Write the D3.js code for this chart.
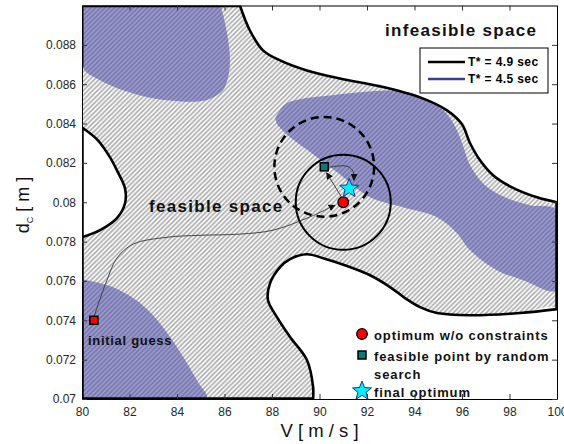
<!DOCTYPE html>
<html>
<head>
<meta charset="utf-8">
<script src="https://cdn.jsdelivr.net/npm/d3@7"></script>
<style>
  body { margin: 0; background: #fff; }
  svg { display: block; font-family: "Liberation Sans", Arial, sans-serif; }
</style>
</head>
<body>
<svg id="chart" width="564" height="444"></svg>
<script>
// ---- axis ticks ----
const xTicks = [80, 82, 84, 86, 88, 90, 92, 94, 96, 98, 100];
const yTicks = [0.07, 0.072, 0.074, 0.076, 0.078, 0.08, 0.082, 0.084, 0.086, 0.088];
const yTickLabels = ["0.07", "0.072", "0.074", "0.076", "0.078", "0.08", "0.082", "0.084", "0.086", "0.088"];

// ---- T* = 4.9 sec contour: infeasible regions (V [m/s], dc [m]) ----
const infeasibleTop = [
  [86.65, 0.0900], [87.07, 0.08873], [87.62, 0.08772], [88.34, 0.08721], [89.47, 0.0867],
  [90.86, 0.08629], [92.55, 0.08589], [94.23, 0.08533], [95.37, 0.08467], [96.0, 0.08396],
  [96.34, 0.0830], [96.76, 0.08213], [97.31, 0.08137], [98.02, 0.08081], [99.16, 0.08025],
  [100, 0.0800]
];
const infeasibleLeft = [
  [80, 0.0838], [80.67, 0.08315], [81.18, 0.08228], [81.47, 0.08162], [81.81, 0.08071],
  [81.81, 0.07995], [81.47, 0.07919], [80.76, 0.07858], [80, 0.07822]
];
const infeasibleBottom = [
  [89.73, 0.0700], [89.73, 0.07061], [89.47, 0.07198], [88.76, 0.07315], [88.21, 0.07416],
  [87.83, 0.07503], [87.92, 0.07589], [88.34, 0.0767], [88.76, 0.07711], [89.47, 0.07736],
  [90.15, 0.07716], [91.07, 0.0768], [92.13, 0.07629], [92.97, 0.07569], [93.6, 0.07513],
  [94.23, 0.07467], [94.95, 0.07437], [96.34, 0.07426], [98.44, 0.07437], [100, 0.07457]
];
// domain edges that close the feasible region
const edgeTop = [[80, 0.09], [86.65, 0.09]];
const edgeLeft = [[80, 0.0838], [80, 0.07]];
const edgeBottom = [[80, 0.07], [89.73, 0.07]];
const edgeRight = [[100, 0.08], [100, 0.07457]];
const edgeLeftBlue = [[80, 0.09], [80, 0.0869]];

// ---- T* = 4.5 sec contour: infeasible regions ----
const blueTopLeft = [
  [80, 0.09], [85.81, 0.09], [85.89, 0.08975], [86.11, 0.08858], [86.23, 0.08721],
  [86.15, 0.08635], [85.94, 0.08569], [85.52, 0.08533], [84.97, 0.08513], [83.58, 0.08518],
  [82.15, 0.08553], [80.76, 0.0862], [80, 0.0869]
];
const blueMiddle = [
  [88.13, 0.08426], [88.55, 0.08497], [89.39, 0.08528], [90.44, 0.08543], [92.13, 0.08563],
  [93.52, 0.08563], [94.65, 0.08518], [95.41, 0.08442], [95.79, 0.08365], [96.04, 0.08289],
  [96.34, 0.08188], [96.97, 0.08086], [97.81, 0.08025], [98.86, 0.07985], [100, 0.07959],
  [100, 0.07553], [98.57, 0.07604], [97.47, 0.07655], [96.34, 0.07756], [95.79, 0.07843],
  [94.95, 0.07924], [93.52, 0.07975], [92.13, 0.08025], [90.74, 0.08152], [89.73, 0.08244],
  [88.76, 0.0833], [88.25, 0.08391]
];
const blueBottomLeft = [
  [80, 0.07609], [81.18, 0.07574], [82.15, 0.07513], [82.95, 0.07431], [83.71, 0.07315],
  [84.34, 0.07198], [84.88, 0.07086], [85.26, 0.07], [80, 0.07]
];

// ---- optimisation points ----
const initialGuess = [80.5, 0.0740];
const optimumFree = [91.0, 0.0800];
const feasiblePoint = [90.2, 0.0818];
const finalOptimum = [91.25, 0.0807];
const solidRadiusV = 2.0;   // radius around unconstrained optimum, in V units
const dashedRadiusV = 2.1;  // radius around random-search point, in V units

// ---- search paths ----
const pathToOptimum = [
  [80.51, 0.07421], [81.05, 0.07604], [81.47, 0.07716], [82.15, 0.07787], [83.58, 0.07822],
  [84.97, 0.07832], [86.65, 0.07838], [88.04, 0.07858], [89.47, 0.07919], [90.65, 0.07985]
];
const pathToFeasible = [[90.93, 0.08025], [90.3, 0.0815]];
const pathToFinal = [[90.4, 0.08178], [91.16, 0.08183], [91.41, 0.08157], [91.45, 0.08112]];

// ---- layout ----
const svg = d3.select("#chart");
const pL = 82, pR = 557, pT = 5.5, pB = 399;
const x = d3.scaleLinear().domain([80, 100]).range([pL, pR]);
const y = d3.scaleLinear().domain([0.07, 0.09]).range([pB, pT]);
const line = d3.line().x(d => x(d[0])).y(d => y(d[1]));
const smooth = d3.line().x(d => x(d[0])).y(d => y(d[1])).curve(d3.curveCatmullRom.alpha(0.5));

const defs = svg.append("defs");
defs.append("clipPath").attr("id", "plotClip")
  .append("rect").attr("x", pL).attr("y", pT).attr("width", pR - pL).attr("height", pB - pT);

const hatch = defs.append("pattern").attr("id", "hatch")
  .attr("patternUnits", "userSpaceOnUse").attr("width", 4.7).attr("height", 4.7);
hatch.append("rect").attr("width", 4.7).attr("height", 4.7).attr("fill", "#fff");
hatch.append("path")
  .attr("d", "M-1,1 L1,-1 M0,4.7 L4.7,0 M3.7,5.7 L5.7,3.7")
  .attr("stroke", "#ababab").attr("stroke-width", 1.6);

defs.append("marker").attr("id", "arrow")
  .attr("viewBox", "0 0 10 10").attr("refX", 9).attr("refY", 5)
  .attr("markerWidth", 7).attr("markerHeight", 7).attr("markerUnits", "userSpaceOnUse")
  .attr("orient", "auto")
  .append("path").attr("d", "M0,0 L10,5 L0,10 z").attr("fill", "#111");

const plot = svg.append("g").attr("clip-path", "url(#plotClip)");

// feasible space (hatched)
plot.append("rect").attr("x", pL).attr("y", pT).attr("width", pR - pL).attr("height", pB - pT)
  .attr("fill", "url(#hatch)");

// infeasible space for T* = 4.9 sec
const closeTop = infeasibleTop.concat([[100, 0.09]]);
const closeBottom = infeasibleBottom.concat([[100, 0.07]]);
[closeTop, infeasibleLeft, closeBottom].forEach(poly => {
  plot.append("path").attr("d", smooth(poly) + "Z").attr("fill", "#fff");
});

// infeasible space for T* = 4.5 sec
[blueTopLeft, blueMiddle, blueBottomLeft].forEach(poly => {
  plot.append("path").attr("d", smooth(poly.concat([poly[0]]))).attr("fill", "#3d3da8").attr("fill-opacity", 0.5);
});

// contour lines
[infeasibleTop, infeasibleLeft, infeasibleBottom].forEach(b => {
  plot.append("path").attr("d", smooth(b)).attr("fill", "none").attr("stroke", "#000").attr("stroke-width", 2.6);
});
[edgeTop, edgeLeft, edgeBottom, edgeRight].forEach(b => {
  plot.append("path").attr("d", line(b)).attr("fill", "none").attr("stroke", "#000").attr("stroke-width", 3.5);
});
plot.append("path").attr("d", line(edgeLeftBlue)).attr("fill", "none").attr("stroke", "#2a2a7a").attr("stroke-width", 3.5);

// ---- axes (box with inward ticks) ----
function styleAxis(g) {
  g.select(".domain").attr("stroke", "#000").attr("stroke-width", 1);
  g.selectAll(".tick line").attr("stroke", "#333");
  g.selectAll(".tick text").attr("fill", "#262626").style("font-size", "12px")
    .style("font-family", "'Liberation Sans', Arial, sans-serif");
}
svg.append("g").attr("transform", `translate(0,${pB})`)
  .call(d3.axisBottom(x).tickValues(xTicks).tickSize(-5).tickSizeOuter(0).tickPadding(8).tickFormat(d3.format("d")))
  .call(styleAxis);
svg.append("g").attr("transform", `translate(0,${pT})`)
  .call(d3.axisTop(x).tickValues(xTicks).tickSize(-5).tickSizeOuter(0).tickFormat(""))
  .call(styleAxis);
svg.append("g").attr("transform", `translate(${pL},0)`)
  .call(d3.axisLeft(y).tickValues(yTicks).tickSize(-5).tickSizeOuter(0).tickPadding(6)
    .tickFormat((d, i) => yTickLabels[i]))
  .call(styleAxis);
svg.append("g").attr("transform", `translate(${pR},0)`)
  .call(d3.axisRight(y).tickValues(yTicks).tickSize(-5).tickSizeOuter(0).tickFormat(""))
  .call(styleAxis);

// ---- trust regions ----
const rSolid = x(80 + solidRadiusV) - x(80);
const rDashed = x(80 + dashedRadiusV) - x(80);
svg.append("circle").attr("cx", x(feasiblePoint[0])).attr("cy", y(feasiblePoint[1])).attr("r", rDashed)
  .attr("fill", "none").attr("stroke", "#000").attr("stroke-width", 2.5).attr("stroke-dasharray", "8,5");
svg.append("circle").attr("cx", x(optimumFree[0])).attr("cy", y(optimumFree[1])).attr("r", rSolid)
  .attr("fill", "none").attr("stroke", "#000").attr("stroke-width", 2);

// ---- search paths ----
svg.append("path").attr("d", smooth(pathToOptimum)).attr("fill", "none")
  .attr("stroke", "#333").attr("stroke-width", 0.9).attr("marker-end", "url(#arrow)");
svg.append("path").attr("d", line(pathToFeasible)).attr("fill", "none")
  .attr("stroke", "#333").attr("stroke-width", 0.9).attr("marker-end", "url(#arrow)");
svg.append("path").attr("d", smooth(pathToFinal)).attr("fill", "none")
  .attr("stroke", "#333").attr("stroke-width", 0.9).attr("marker-end", "url(#arrow)");

// ---- markers ----
function starPath(cx, cy, R, r) {
  const pts = [];
  for (let i = 0; i < 10; i++) {
    const a = -Math.PI / 2 + i * Math.PI / 5;
    const rad = i % 2 === 0 ? R : r;
    pts.push([cx + rad * Math.cos(a), cy + rad * Math.sin(a)]);
  }
  return "M" + pts.map(p => p.join(",")).join("L") + "Z";
}
function drawCircle(px, py) {
  svg.append("circle").attr("cx", px).attr("cy", py).attr("r", 5.3)
    .attr("fill", "#ff0000").attr("stroke", "#000").attr("stroke-width", 1.3);
}
function drawSquare(px, py, fill, s) {
  svg.append("rect").attr("x", px - s / 2).attr("y", py - s / 2).attr("width", s).attr("height", s)
    .attr("fill", fill).attr("stroke", "#000").attr("stroke-width", 1.5);
}
function drawStar(px, py) {
  svg.append("path").attr("d", starPath(px, py, 10, 4.3))
    .attr("fill", "#00f0ff").attr("stroke", "#16368a").attr("stroke-width", 1);
}
drawSquare(x(initialGuess[0]), y(initialGuess[1]), "#ff0000", 8);
drawCircle(x(optimumFree[0]), y(optimumFree[1]));
drawSquare(x(feasiblePoint[0]), y(feasiblePoint[1]), "#0a7a7a", 8);
drawStar(x(finalOptimum[0]), y(finalOptimum[1]));

// ---- annotations ----
svg.append("text").attr("x", 385).attr("y", 36).attr("font-weight", "bold")
  .style("font-size", "17px").style("letter-spacing", "1.3px").attr("fill", "#111").text("infeasible space");
svg.append("text").attr("x", 149).attr("y", 212).attr("font-weight", "bold")
  .style("font-size", "17px").style("letter-spacing", "1.3px").attr("fill", "#111").text("feasible space");
svg.append("text").attr("x", 88).attr("y", 345).attr("font-weight", "bold")
  .style("font-size", "13px").style("letter-spacing", "0.7px").attr("fill", "#111").text("initial guess");

// legend for contour levels
const lg = svg.append("g");
lg.append("rect").attr("x", 420).attr("y", 48).attr("width", 128).attr("height", 45)
  .attr("fill", "#fff").attr("stroke", "#000").attr("stroke-width", 1);
lg.append("line").attr("x1", 428).attr("x2", 465).attr("y1", 62).attr("y2", 62)
  .attr("stroke", "#000").attr("stroke-width", 2.5);
lg.append("line").attr("x1", 428).attr("x2", 465).attr("y1", 79).attr("y2", 79)
  .attr("stroke", "#3a3aa5").attr("stroke-width", 2.5);
lg.append("text").attr("x", 468).attr("y", 66).attr("font-weight", "bold").style("font-size", "12px")
  .style("letter-spacing", "0.4px").text("T* = 4.9 sec");
lg.append("text").attr("x", 468).attr("y", 83).attr("font-weight", "bold").style("font-size", "12px")
  .style("letter-spacing", "0.4px").text("T* = 4.5 sec");

// legend for points
drawCircle(362, 334);
drawSquare(362, 355, "#0a7a7a", 8);
drawStar(362, 391);
const pl = [
  { t: "optimum w/o constraints", yy: 339.5 },
  { t: "feasible point by random", yy: 361 },
  { t: "search", yy: 378.5 },
  { t: "final optimum", yy: 397 }
];
pl.forEach(d => {
  svg.append("text").attr("x", 374).attr("y", d.yy).attr("font-weight", "bold")
    .style("font-size", "13px").style("letter-spacing", "0.9px").attr("fill", "#111").text(d.t);
});

// ---- axis titles ----
svg.append("text").attr("x", x(90)).attr("y", 437).attr("text-anchor", "middle")
  .style("font-size", "18.5px").attr("fill", "#111").text("V [ m / s ]");
const yl = svg.append("text").attr("transform", "translate(29,205) rotate(-90)")
  .attr("text-anchor", "middle").style("font-size", "18px").attr("fill", "#111");
yl.append("tspan").text("d");
yl.append("tspan").attr("dy", 4).style("font-size", "9px").text("C");
yl.append("tspan").attr("dy", -4).text("  [ m ]");
</script>
</body>
</html>
